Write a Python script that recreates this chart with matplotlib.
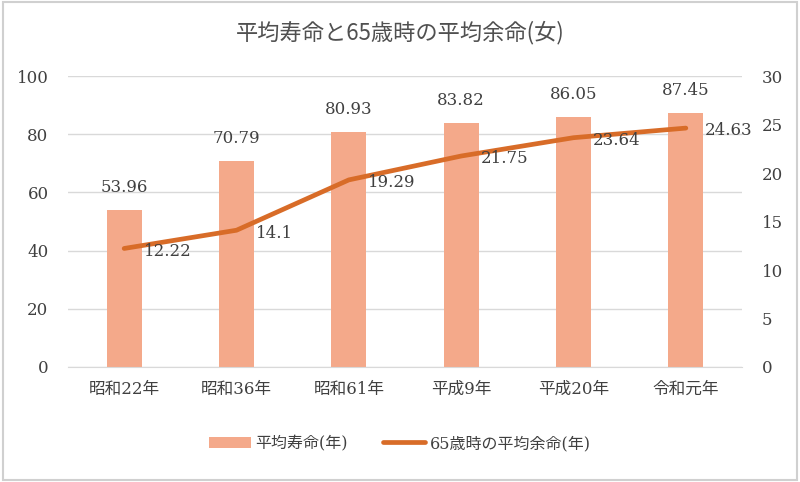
import matplotlib.pyplot as plt
from matplotlib.patches import Rectangle

categories = ['昭和22年', '昭和36年', '昭和61年', '平成9年', '平成20年', '令和元年']
life_expectancy = [53.96, 70.79, 80.93, 83.82, 86.05, 87.45]
remaining_at_65 = [12.22, 14.1, 19.29, 21.75, 23.64, 24.63]

bar_color = '#F4A98A'
line_color = '#D86C28'
text_color = '#404040'
serif = ['DejaVu Serif', 'Noto Sans CJK JP']
gothic = ['Noto Sans CJK JP', 'DejaVu Sans']

fig = plt.figure(figsize=(8, 4.82), dpi=100)
fig.patches.append(Rectangle((0.004, 0.004), 0.992, 0.992, transform=fig.transFigure,
                             fill=False, edgecolor='#D0D0D0', linewidth=1.5))

ax = fig.add_axes([0.085, 0.2386, 0.8425, 0.6037])
x = list(range(len(categories)))
bars = ax.bar(x, life_expectancy, width=0.31, color=bar_color, label='平均寿命(年)', zorder=2)
ax.set_ylim(0, 100)
ax.set_xlim(-0.5, len(categories) - 0.5)
ax.set_yticks(range(0, 101, 20))
ax.grid(axis='y', color='#D9D9D9', linewidth=1, zorder=0)
ax.set_axisbelow(True)
for s in ['top', 'right', 'left']:
    ax.spines[s].set_visible(False)
ax.spines['bottom'].set_color('#D9D9D9')
ax.tick_params(axis='y', length=0, pad=14, labelsize=12, colors=text_color)
ax.tick_params(axis='x', length=0, pad=10, labelsize=12, colors=text_color)
ax.set_xticks(x)
ax.set_xticklabels(categories, family=serif, fontsize=12)
for lab in ax.get_yticklabels():
    lab.set_family(serif)

# bar values above the bars
for xi, v in zip(x, life_expectancy):
    ax.annotate(f'{v:.2f}', (xi, v), xytext=(0, 10), textcoords='offset points',
                ha='center', va='bottom', fontsize=12, family=serif, color=text_color)

ax2 = ax.twinx()
ax2.set_ylim(0, 30)
ax2.set_yticks(range(0, 31, 5))
for s in ['top', 'right', 'left', 'bottom']:
    ax2.spines[s].set_visible(False)
ax2.tick_params(length=0, pad=14, labelsize=12, colors=text_color)
for lab in ax2.get_yticklabels():
    lab.set_family(serif)
line, = ax2.plot(x, remaining_at_65, color=line_color, linewidth=3.4,
                 solid_capstyle='round', label='65歳時の平均余命(年)', zorder=3)
for xi, v in zip(x, remaining_at_65):
    ax2.annotate(f'{v:g}', (xi, v), xytext=(14, -2), textcoords='offset points',
                 ha='left', va='center', fontsize=12, family=serif, color=text_color)

fig.text(0.5, 0.932, '平均寿命と65歳時の平均余命(女)', ha='center', va='center',
         fontsize=16, family=gothic, color='#505050')

fig.legend([bars, line], ['平均寿命(年)', '65歳時の平均余命(年)'], loc='center',
           bbox_to_anchor=(0.5, 0.08), ncol=2, frameon=False,
           prop={'family': serif, 'size': 11.5}, handlelength=2.6, handletextpad=0.3,
           columnspacing=2.2, labelcolor=text_color)

fig.savefig('out.png', dpi=100)
